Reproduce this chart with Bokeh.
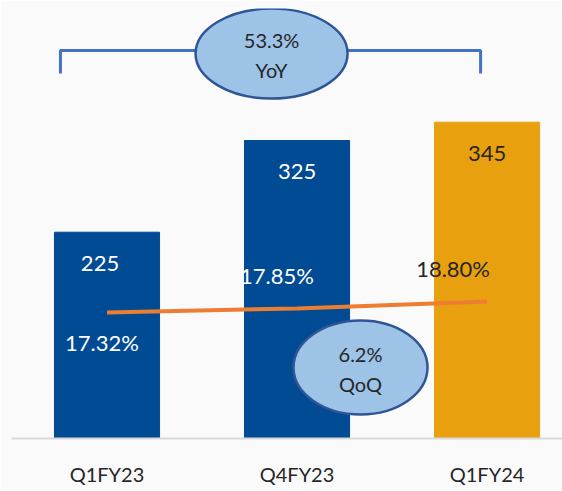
from bokeh.plotting import figure
from bokeh.models import Range1d, LinearAxis, FixedTicker
from bokeh.core.properties import value
from bokeh.embed import file_html
from bokeh.resources import INLINE

categories = ["Q1FY23", "Q4FY23", "Q1FY24"]
revenue = [225, 325, 345]
margin = [17.32, 17.85, 18.80]
margin_labels = ["17.32%", "17.85%", "18.80%"]
yoy_text = ["53.3%", "YoY"]
qoq_text = ["6.2%", "QoQ"]

FONT = "Lato"
BLUE = "#004B93"
ORANGE = "#E8A00E"
bar_colors = [BLUE, BLUE, ORANGE]
label_colors = ["white", "white", "#262626"]

xs = list(range(len(categories)))

p = figure(width=562, height=491, frame_width=551, frame_height=430,
           x_range=Range1d(-0.5026, 2.397), y_range=Range1d(0, 469),
           output_backend="svg", toolbar_location=None,
           x_axis_location=None, y_axis_location=None,
           min_border_left=11, min_border_right=0, min_border_top=8,
           min_border_bottom=53)
p.background_fill_color = "#fafafa"
p.border_fill_color = "#fafafa"
p.outline_line_color = None
p.xgrid.visible = False
p.ygrid.visible = False
p.extra_y_ranges = {"margin": Range1d(0.36, 58.2)}

xaxis = LinearAxis(ticker=FixedTicker(ticks=xs),
                   major_label_overrides={i: c for i, c in zip(xs, categories)})
xaxis.axis_line_color = "#d9d9d9"
xaxis.axis_line_width = 2
xaxis.major_tick_line_color = None
xaxis.minor_tick_line_color = None
xaxis.major_label_text_font = FONT
xaxis.major_label_text_font_size = "20px"
xaxis.major_label_text_color = "#262626"
xaxis.major_label_standoff = 17
p.add_layout(xaxis, "below")

p.vbar(x=xs, top=revenue, width=0.553, color=bar_colors)

p.line(x=xs, y=margin, y_range_name="margin", line_color="#ED7D31", line_width=4)

# value labels inside bars
p.text(x=xs, y=revenue, text=[str(v) for v in revenue], text_color=label_colors,
       text_font=value(FONT), text_font_size="22px", text_align="center",
       text_baseline="middle", y_offset=31, x_offset=[-7, 0, 0])

# margin labels
p.text(x=xs, y=margin, y_range_name="margin", text=margin_labels,
       text_color=label_colors, text_font=value(FONT), text_font_size="22px",
       text_align="center", text_baseline="middle",
       y_offset=[30, -33, -33], x_offset=[-5, -20, -34])

# YoY bracket
xl, xr, yt, yb = -0.245, 1.966, 423.2, 398.1
p.line(x=[xl, xl, xr, xr], y=[yb, yt, yt, yb], line_color="#4472C4", line_width=3)

# ellipses
p.ellipse(x=[0.866, 1.334], y=[419.8, 77.4], width=[152, 134], height=[90, 94],
          width_units="screen", height_units="screen",
          fill_color="#9DC3E6", line_color="#2F5597", line_width=2.5)

p.text(x=[0.866, 0.866], y=[419.8, 419.8], text=yoy_text, text_color="#262626",
       text_font=value(FONT), text_font_size="20px", text_align="center",
       text_baseline="middle", y_offset=[-14, 16])
p.text(x=[1.334, 1.334], y=[77.4, 77.4], text=qoq_text, text_color="#262626",
       text_font=value(FONT), text_font_size="20px", text_align="center",
       text_baseline="middle", y_offset=[-14, 16])

open("out.html", "w").write(file_html(p, INLINE))
